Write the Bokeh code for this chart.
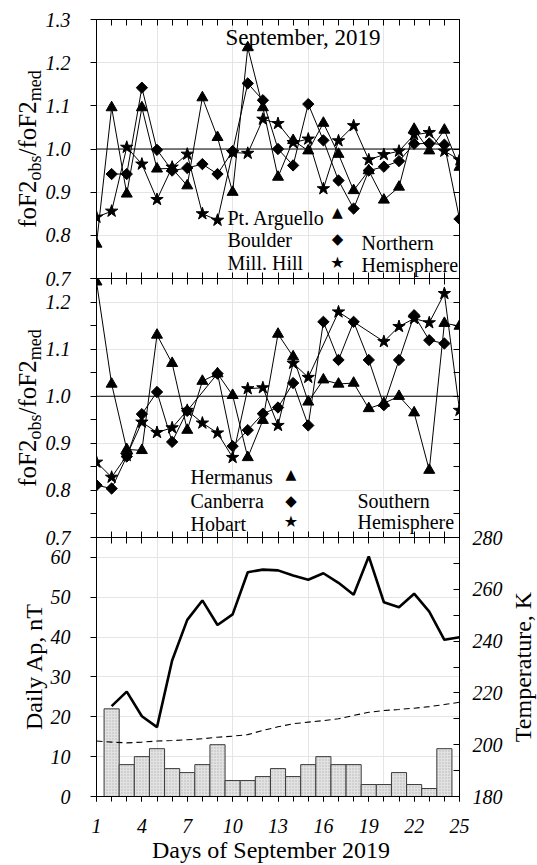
import math
from bokeh.plotting import figure
from bokeh.layouts import column
from bokeh.models import (Range1d, LinearAxis, FixedTicker, PrintfTickFormatter,
                          CustomJSTickFormatter, Span, Label, Div)
from bokeh.embed import file_html
from bokeh.resources import INLINE

SERIF = "Liberation Serif"

# ---------------- data ----------------
days = list(range(1, 26))

# Northern hemisphere foF2obs/foF2med
arguello_days = list(range(1, 26))
arguello = [0.78, 1.096, 0.896, 1.096, 0.954, 0.955, 0.915, 1.119, 1.027, 0.90,
            1.235, 1.096, 0.935, 1.02, 0.996, 1.06, 0.988, 0.904, 0.95, 0.882,
            0.912, 1.046, 0.996, 1.044, 0.958]
boulder_days = list(range(2, 26))
boulder = [0.942, 0.942, 1.142, 0.998, 0.95, 0.956, 0.965, 0.942, 0.995, 1.152,
           1.113, 1.0, 0.962, 1.104, 1.02, 0.927, 0.862, 0.95, 0.959, 0.972,
           1.012, 1.013, 1.01, 0.838]
millhill_days = list(range(1, 26))
millhill = [0.842, 0.856, 1.004, 0.965, 0.883, 0.958, 0.988, 0.85, 0.835, 0.992,
            0.99, 1.069, 1.059, 1.015, 1.023, 0.908, 1.019, 1.054, 0.975, 0.987,
            0.995, 1.033, 1.038, 0.995, 0.975]

# Southern hemisphere foF2obs/foF2med
hermanus_days = list(range(1, 26))
hermanus = [1.243, 1.026, 0.887, 0.885, 1.13, 1.07, 0.928, 1.032, 1.048, 1.002,
            0.87, 0.949, 1.132, 1.084, 0.988, 1.035, 1.026, 1.028, 0.974, 0.985,
            1.0, 0.965, 0.843, 1.155, 1.149]
canberra_days = [1, 2, 3, 4, 5, 6, 7, 9, 10, 11, 12, 13, 14, 15, 16, 17, 18, 19,
                 20, 21, 22, 23, 24]
canberra = [0.811, 0.804, 0.872, 0.962, 1.009, 0.903, 0.969, 1.048, 0.894, 0.928,
            0.963, 0.976, 1.028, 0.938, 1.158, 1.077, 1.158, 1.077, 0.981, 1.077,
            1.172, 1.119, 1.112]
hobart_days = [1, 2, 3, 4, 5, 6, 7, 8, 9, 10, 11, 12, 13, 14, 15, 17, 20, 21, 22,
               23, 24, 25]
hobart = [0.86, 0.828, 0.874, 0.945, 0.923, 0.933, 0.97, 0.943, 0.922, 0.87,
          1.016, 1.018, 0.938, 1.07, 1.04, 1.179, 1.116, 1.148, 1.165, 1.156,
          1.218, 0.97]

# Daily Ap (bars)
ap_days = list(range(2, 25))
ap = [22, 8, 10, 12, 7, 6, 8, 13, 4, 4, 5, 7, 5, 8, 10, 8, 8, 3, 3, 6, 3, 2, 12]

# Temperatures, K
temp_solid_days = list(range(2, 26))
temp_solid = [214.9, 220.5, 211.0, 206.8, 232.5, 248.2, 255.7, 246.2, 250.3, 266.6,
              267.6, 267.3, 265.3, 263.7, 266.2, 262.5, 257.9, 272.7, 255.0, 253.1,
              258.3, 251.4, 240.5, 241.5]
temp_dashed_days = list(range(1, 26))
temp_dashed = [201.4, 201.0, 200.7, 201.0, 201.4, 201.6, 201.9, 202.3, 202.9, 203.3,
               203.9, 205.5, 206.9, 208.1, 208.7, 209.3, 210.0, 211.3, 212.5, 213.2,
               213.6, 214.1, 214.7, 215.5, 216.4]

ratio_ticks_top = [0.7, 0.8, 0.9, 1.0, 1.1, 1.2, 1.3]
ratio_ticks_mid = [0.7, 0.8, 0.9, 1.0, 1.1, 1.2]
ratio_minor_mid = [0.75, 0.85, 0.95, 1.05, 1.15, 1.25]
ap_ticks = [0, 10, 20, 30, 40, 50, 60]
temp_ticks = [180, 200, 220, 240, 260, 280]
temp_minor = [190, 210, 230, 250, 270]
day_label_ticks = [1, 4, 7, 10, 13, 16, 19, 22, 25]

# ---------------- layout helpers ----------------
W, H = 537, 865
LEFT = 96
PAD = 10  # canvas overlap so that edge tick labels are not cut
EMPTY = CustomJSTickFormatter(code="return ''")


def make_fig(height, top, bottom, y0, y1):
    p = figure(width=W, height=height, x_range=Range1d(1, 25), y_range=Range1d(y0, y1),
               output_backend="svg", toolbar_location=None,
               x_axis_location=None, y_axis_location=None,
               min_border_left=LEFT, min_border_right=78,
               min_border_top=top, min_border_bottom=bottom)
    p.outline_line_color = None
    p.background_fill_color = None
    p.border_fill_color = None
    return p


def add_axis(p, side, ticks, minor=None, tin=0, tout=0, labels=False, fmt=None,
             standoff=10, range_name=None):
    kw = {}
    if range_name:
        kw["y_range_name"] = range_name
    ax = LinearAxis(ticker=FixedTicker(ticks=ticks, minor_ticks=minor or []), **kw)
    ax.axis_line_color = "black"
    ax.axis_line_width = 1
    ax.major_tick_line_color = "black"
    ax.minor_tick_line_color = "black"
    ax.major_tick_in = tin
    ax.major_tick_out = tout
    ax.minor_tick_in = tin
    ax.minor_tick_out = tout
    if labels:
        if fmt:
            ax.formatter = PrintfTickFormatter(format=fmt)
        ax.major_label_text_font = SERIF
        ax.major_label_text_font_style = "italic"
        ax.major_label_text_font_size = "20px"
        ax.major_label_text_color = "black"
        ax.major_label_standoff = standoff
    else:
        ax.formatter = EMPTY
        ax.major_label_text_font_size = "0px"
        ax.major_label_standoff = 0
    p.add_layout(ax, side)
    return ax


def series(p, x, y, marker, size, **kw):
    p.line(x, y, line_color="black", line_width=1, **kw)
    if marker == "diamond":
        p.scatter(x, y, marker="square", angle=math.pi / 4, size=size,
                  fill_color="black", line_color="black", **kw)
    else:
        p.scatter(x, y, marker=marker, size=size, fill_color="black",
                  line_color="black", **kw)


def text(p, frame_bottom, s, px, py, size, align="left", baseline="alphabetic",
         font=SERIF):
    # px, py: page position (py = text baseline); converted to frame screen units
    if baseline == "alphabetic":
        py -= 0.27 * size
    p.add_layout(Label(x=px - LEFT, y=frame_bottom - py, x_units="screen",
                       y_units="screen", text=s, text_font=font,
                       text_font_size=f"{size}px", text_align=align,
                       text_baseline=baseline, text_color="black"))


SYM = "DejaVu Sans"

# ---------------- top panel (Northern) ----------------
p1 = make_fig(19 + 259 + PAD, 19, PAD, 0.7, 1.3)
add_axis(p1, "left", ratio_ticks_top, tout=6, labels=True, fmt="%.1f", standoff=20)
add_axis(p1, "right", ratio_ticks_top, tin=6)
add_axis(p1, "above", days, tin=6)
add_axis(p1, "below", days, tin=6, tout=6)
p1.add_layout(Span(location=1.0, dimension="width", line_color="black", line_width=1))
series(p1, arguello_days, arguello, "triangle", 11)
series(p1, boulder_days, boulder, "diamond", 8)
series(p1, millhill_days, millhill, "star", 13)
FB1 = 278
text(p1, FB1, "September, 2019", 225, 43, 23)
text(p1, FB1, "Pt. Arguello", 227, 222.5, 20)
text(p1, FB1, "Boulder", 227, 245, 20)
text(p1, FB1, "Mill. Hill", 227, 268, 20)
text(p1, FB1, "\u25B2", 337, 211, 14, align="center", baseline="middle", font=SYM)
text(p1, FB1, "\u25C6", 337, 238, 15, align="center", baseline="middle", font=SYM)
text(p1, FB1, "\u2605", 337, 262, 16, align="center", baseline="middle", font=SYM)
text(p1, FB1, "Northern", 361, 248, 20)
text(p1, FB1, "Hemisphere", 361, 270, 20)

# ---------------- middle panel (Southern) ----------------
p2 = make_fig(PAD + 259 + PAD, PAD, PAD, 0.7, 1.25)
p2.margin = (-2 * PAD, 0, 0, 0)
add_axis(p2, "left", ratio_ticks_mid, minor=ratio_minor_mid, tout=6, labels=True,
         fmt="%.1f", standoff=20)
add_axis(p2, "right", ratio_ticks_mid, minor=ratio_minor_mid, tin=6)
add_axis(p2, "below", days, tin=6, tout=6)
p2.add_layout(Span(location=1.0, dimension="width", line_color="black", line_width=1))
series(p2, hermanus_days, hermanus, "triangle", 11)
series(p2, canberra_days, canberra, "diamond", 8)
series(p2, hobart_days, hobart, "star", 13)
FB2 = 537
text(p2, FB2, "Hermanus", 190, 481.5, 20)
text(p2, FB2, "Canberra", 190, 506, 20)
text(p2, FB2, "Hobart", 190, 529, 20)
text(p2, FB2, "\u25B2", 290.5, 473, 14, align="center", baseline="middle", font=SYM)
text(p2, FB2, "\u25C6", 290.5, 500, 15, align="center", baseline="middle", font=SYM)
text(p2, FB2, "\u2605", 290.5, 521, 16, align="center", baseline="middle", font=SYM)
text(p2, FB2, "Southern", 357, 506, 20)
text(p2, FB2, "Hemisphere", 357, 527, 20)

# ---------------- bottom panel (Ap and temperatures) ----------------
p3 = make_fig(PAD + 259 + 69, PAD, 69, 0, 65)
p3.margin = (-2 * PAD, 0, 0, 0)
p3.extra_y_ranges = {"temp": Range1d(180, 280)}
add_axis(p3, "left", ap_ticks, tout=6, labels=True, fmt="%d", standoff=20)
add_axis(p3, "right", temp_ticks, minor=temp_minor, tin=6, labels=True, fmt="%d",
         standoff=13, range_name="temp")
add_axis(p3, "below", day_label_ticks, minor=days, tout=5, labels=True, fmt="%d",
         standoff=17)
p3.vbar(x=ap_days, top=ap, bottom=0, width=1.0, fill_color="#e2e2e2",
        line_color="#3a3a3a", line_width=1, hatch_pattern="dot", hatch_scale=3,
        hatch_color="#b4b4b4", hatch_weight=0.6)
p3.line(temp_solid_days, temp_solid, y_range_name="temp", line_color="black",
        line_width=2.6)
p3.line(temp_dashed_days, temp_dashed, y_range_name="temp", line_color="black",
        line_width=1.1, line_dash="6 4")

# ---------------- axis titles outside the frames (HTML text overlay) ----------------
BASE = ("position:absolute;white-space:nowrap;line-height:1;color:#000;"
        f"font-family:'{SERIF}';")


def rot(html, cx, cy, size):
    return (f'<div style="{BASE}font-size:{size}px;left:{cx}px;top:{cy}px;'
            f'transform:translate(-50%,-50%) rotate(-90deg);">{html}</div>')


def sub(s):
    return f'<span style="font-size:18px;position:relative;top:4.5px;">{s}</span>'


ratio_title = f"foF2{sub('obs')}/foF2{sub('med')}"
overlay_html = (
    f'<div style="position:relative;width:{W}px;height:{H}px;overflow:hidden;">'
    + rot(ratio_title, 26.6, 148.5, 25)
    + rot(ratio_title, 26.6, 407.5, 25)
    + rot("Daily Ap, nT", 33.5, 667, 24)
    + rot("Temperature, K", 523, 666.5, 24)
    + f'<div style="{BASE}font-size:24px;left:152px;top:838px;">'
      'Days of September 2019</div>'
    + '</div>'
)
ov = Div(text=overlay_html, width=W, height=H, margin=(-H, 0, 0, 0),
         styles={"pointer-events": "none"})

layout = column(p1, p2, p3, ov, spacing=0)
open("out.html", "w").write(file_html(layout, INLINE))
